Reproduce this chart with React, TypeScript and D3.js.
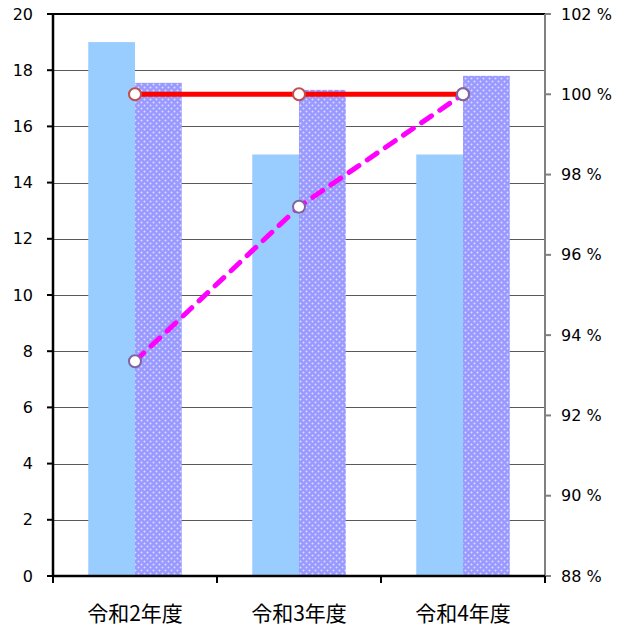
import * as d3 from "d3";
import { useEffect, useRef } from "react";

const categories = ["令和2年度", "令和3年度", "令和4年度"];
const seriesA = [19, 15, 15];
const seriesB = [17.55, 17.3, 17.8];
const rateRed = [100, 100, 100];
const rateMagenta = [93.35, 97.2, 100];
const leftTicks = [0, 2, 4, 6, 8, 10, 12, 14, 16, 18, 20];
const rightTicks = [88, 90, 92, 94, 96, 98, 100, 102];

export default function App() {
  const ref = useRef<SVGSVGElement>(null);

  useEffect(() => {
    if (!ref.current) return;
    const svg = d3.select(ref.current);
    svg.selectAll("*").remove();

    const width = 627;
    const height = 628;
    const margin = { top: 14, right: 82, bottom: 52, left: 53 };
    const innerW = width - margin.left - margin.right;
    const innerH = height - margin.top - margin.bottom;

    // extra 8px so the negative bottom margin does not cut the labels off
    svg.attr("width", width).attr("height", height + 8);

    const defs = svg.append("defs");
    const pat = defs
      .append("pattern")
      .attr("id", "dots")
      .attr("patternUnits", "userSpaceOnUse")
      .attr("width", 6)
      .attr("height", 6);
    pat.append("rect").attr("width", 6).attr("height", 6).attr("fill", "#9999ff");
    pat.append("circle").attr("cx", 1.5).attr("cy", 1.5).attr("r", 1).attr("fill", "#dcdcff");
    pat.append("circle").attr("cx", 4.5).attr("cy", 4.5).attr("r", 1).attr("fill", "#dcdcff");

    const g = svg.append("g").attr("transform", `translate(${margin.left},${margin.top})`);

    const x = d3.scaleBand().domain(categories).range([0, innerW]);
    const y = d3.scaleLinear().domain([0, 20]).range([innerH, 0]);
    const y2 = d3.scaleLinear().domain([88, 102]).range([innerH, 0]);

    const barW = x.bandwidth() * 0.285;

    // gridlines
    g.selectAll(".grid")
      .data(leftTicks.slice(1, -1))
      .join("line")
      .attr("x1", 0)
      .attr("x2", innerW)
      .attr("y1", (d) => Math.round(y(d)) + 0.5)
      .attr("y2", (d) => Math.round(y(d)) + 0.5)
      .attr("stroke", "#5a5a5a")
      .attr("stroke-width", 1);

    // bars
    g.selectAll(".barA")
      .data(seriesA)
      .join("rect")
      .attr("x", (_, i) => (x(categories[i]) ?? 0) + x.bandwidth() / 2 - barW)
      .attr("y", (d) => y(d))
      .attr("width", barW)
      .attr("height", (d) => innerH - y(d))
      .attr("fill", "#99ccff");

    g.selectAll(".barB")
      .data(seriesB)
      .join("rect")
      .attr("x", (_, i) => (x(categories[i]) ?? 0) + x.bandwidth() / 2)
      .attr("y", (d) => y(d))
      .attr("width", barW)
      .attr("height", (d) => innerH - y(d))
      .attr("fill", "url(#dots)");

    // frame
    g.append("line")
      .attr("x1", 0).attr("x2", innerW).attr("y1", 0).attr("y2", 0)
      .attr("stroke", "#000").attr("stroke-width", 2);
    g.append("line")
      .attr("x1", innerW).attr("x2", innerW).attr("y1", 0).attr("y2", innerH)
      .attr("stroke", "#808080").attr("stroke-width", 2);
    g.append("line")
      .attr("x1", 0).attr("x2", 0).attr("y1", 0).attr("y2", innerH)
      .attr("stroke", "#000").attr("stroke-width", 2.5);
    g.append("line")
      .attr("x1", -1).attr("x2", innerW).attr("y1", innerH).attr("y2", innerH)
      .attr("stroke", "#000").attr("stroke-width", 2.5);

    const font = "'DejaVu Sans', Verdana, 'Noto Sans CJK JP', sans-serif";

    // left axis
    g.selectAll(".lt")
      .data(leftTicks)
      .join("line")
      .attr("x1", -6).attr("x2", 0)
      .attr("y1", (d) => y(d)).attr("y2", (d) => y(d))
      .attr("stroke", "#000").attr("stroke-width", 2);
    g.selectAll(".ll")
      .data(leftTicks)
      .join("text")
      .attr("x", -20)
      .attr("y", (d) => y(d))
      .attr("text-anchor", "end")
      .attr("dominant-baseline", "central")
      .style("font-family", font)
      .style("font-size", "16px")
      .style("fill", "#000")
      .text((d) => d);

    // right axis
    g.selectAll(".rt")
      .data(rightTicks)
      .join("line")
      .attr("x1", innerW).attr("x2", innerW + 6)
      .attr("y1", (d) => y2(d)).attr("y2", (d) => y2(d))
      .attr("stroke", "#808080").attr("stroke-width", 2);
    g.selectAll(".rl")
      .data(rightTicks)
      .join("text")
      .attr("x", innerW + 16)
      .attr("y", (d) => y2(d))
      .attr("dominant-baseline", "central")
      .style("font-family", font)
      .style("font-size", "16px")
      .style("fill", "#000")
      .text((d) => `${d} %`);

    // bottom axis
    const bounds = [...categories.map((c) => x(c) ?? 0), innerW];
    g.selectAll(".bt")
      .data(bounds)
      .join("line")
      .attr("x1", (d) => d).attr("x2", (d) => d)
      .attr("y1", innerH).attr("y2", innerH + 7)
      .attr("stroke", "#000").attr("stroke-width", 2);
    g.selectAll(".bl")
      .data(categories)
      .join("text")
      .attr("x", (d) => (x(d) ?? 0) + x.bandwidth() / 2)
      .attr("y", innerH + 45)
      .attr("text-anchor", "middle")
      .style("font-family", "'Noto Sans CJK JP', sans-serif")
      .style("font-size", "21px")
      .style("fill", "#000")
      .text((d) => d);

    // lines
    const cx = (i: number) => (x(categories[i]) ?? 0) + x.bandwidth() / 2;
    const line = d3
      .line<number>()
      .x((_, i) => cx(i))
      .y((d) => y2(d));

    g.append("path")
      .datum(rateRed)
      .attr("d", line)
      .attr("fill", "none")
      .attr("stroke", "#ff0000")
      .attr("stroke-width", 5);
    g.selectAll(".mr")
      .data(rateRed)
      .join("circle")
      .attr("cx", (_, i) => cx(i))
      .attr("cy", (d) => y2(d))
      .attr("r", 6)
      .attr("fill", "#fff")
      .attr("stroke", "#c0504d")
      .attr("stroke-width", 2);

    g.append("path")
      .datum(rateMagenta)
      .attr("d", line)
      .attr("fill", "none")
      .attr("stroke", "#ff00ff")
      .attr("stroke-width", 5)
      .attr("stroke-dasharray", "12 10")
      .attr("stroke-linecap", "round");
    g.selectAll(".mm")
      .data(rateMagenta)
      .join("circle")
      .attr("cx", (_, i) => cx(i))
      .attr("cy", (d) => y2(d))
      .attr("r", 6)
      .attr("fill", "#fff")
      .attr("stroke", "#8064a2")
      .attr("stroke-width", 2);
  }, []);

  return <svg ref={ref} style={{ display: "block", margin: "-8px" }} />;
}
